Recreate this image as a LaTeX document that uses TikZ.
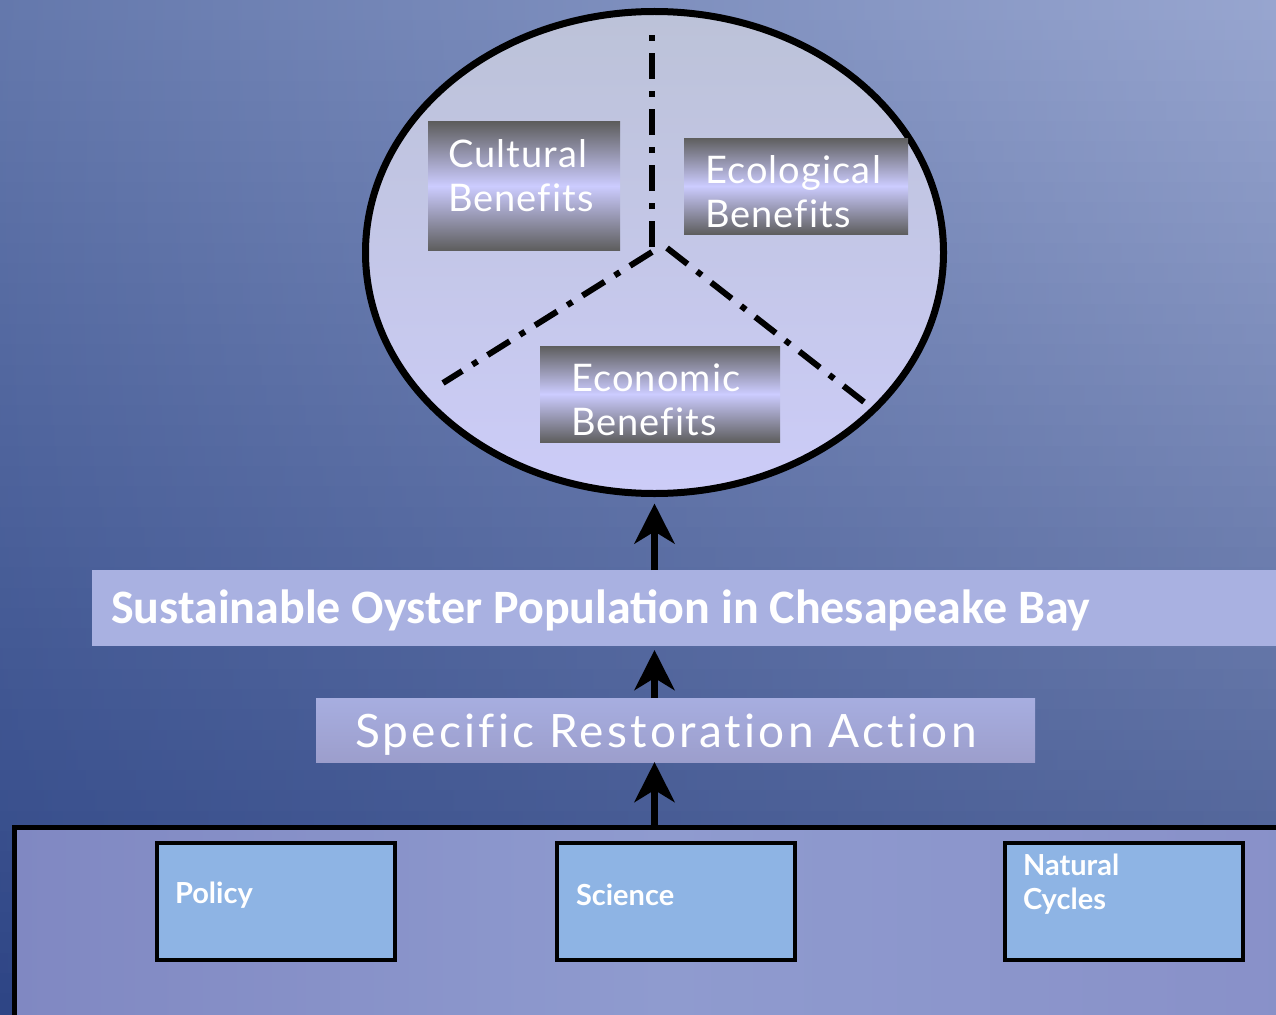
\documentclass[tikz,border=0pt]{standalone}
\usepackage{fontspec}
\setmainfont{Lato}
\newfontfamily\titlefont{Carlito}
\newfontfamily\comicfont{Lato}[Ligatures=NoCommon]
\usetikzlibrary{arrows.meta,shapes.geometric}
\definecolor{bgTL}{HTML}{6478AC}
\definecolor{bgTR}{HTML}{97A5CF}
\definecolor{bgBL}{HTML}{2E4585}
\definecolor{bgBR}{HTML}{44588F}
\definecolor{ovalTop}{HTML}{BCC2D8}
\definecolor{ovalBot}{HTML}{CCCCF8}
\definecolor{benGray}{HTML}{5E5E5E}
\definecolor{benLav}{HTML}{CCCCFF}
\definecolor{titleFill}{HTML}{A9B1E1}
\definecolor{actTop}{HTML}{A7AEE0}
\definecolor{actBot}{HTML}{9C9ECC}
\definecolor{baseL}{HTML}{8088C2}
\definecolor{baseM}{HTML}{8F9BCF}
\definecolor{baseR}{HTML}{8890C8}
\definecolor{cardFill}{HTML}{8EB4E4}
\tikzset{
  every node/.style={outer sep=0pt},
  benbox/.style={rectangle, inner sep=0pt, anchor=north west, top color=benGray, bottom color=benGray, middle color=benLav},
  bentext/.style={anchor=west, inner sep=0pt, text=white, align=left, font=\comicfont\addfontfeatures{LetterSpace=3}\fontsize{38}{44}\selectfont},
  dd/.style={line width=6pt, dash pattern=on 26pt off 12pt on 6pt off 12pt},
  uparr/.style={line width=7pt, -{Stealth[length=40pt,width=40pt,inset=12pt]}},
  card/.style={rectangle, draw=black, line width=4pt, fill=cardFill, inner sep=0pt, anchor=north west, minimum width=238pt, minimum height=117pt},
  cardtext/.style={anchor=west, inner sep=0pt, text=white, align=left, font=\bfseries\fontsize{29}{34}\selectfont}
}
\begin{document}
\begin{tikzpicture}[x=1pt,y=-1pt]
\useasboundingbox (0,0) rectangle (1276,1014);
\clip (0,0) rectangle (1276,1014);
% background: horizontal strips, each shaded left to right, colours mixed top to bottom
\foreach \i in {0,...,49}{
  \pgfmathsetmacro{\t}{\i/49}
  \pgfmathsetmacro{\p}{100*(1-\t)*(1+0.15*\t)}
  \pgfmathsetmacro{\ya}{\i*20.28}
  \pgfmathsetmacro{\yb}{(\i+1)*20.28+1}
  \fill[left color={bgTL!\p!bgBL}, right color={bgTR!\p!bgBR}] (0,\ya) rectangle (1276,\yb);
}
% oval
\node[ellipse, draw=black, line width=7pt, inner sep=0pt, minimum width=578pt, minimum height=482pt, top color=ovalTop, bottom color=ovalBot] (oval) at (654.5,252.5) {};
\coordinate (topend) at (652,25);
\coordinate (lend) at (443,383);
\coordinate (rend) at (864,402);
\draw[dd] (652,247) -- (topend);
\draw[dd] (652,252) -- (lend);
\draw[dd] (667,248) -- (rend);
% benefit boxes
\node[benbox, minimum width=192pt, minimum height=128pt] (cult) at (428,122) {};
\node[bentext] (cultT) at (448,176) {Cultural\\Benefits};
\node[benbox, minimum width=224pt, minimum height=96pt] (eco) at (684,138) {};
\node[bentext] (ecoT) at (705,192) {Ecological\\Benefits};
\node[benbox, minimum width=240pt, minimum height=96pt] (econ) at (540,346) {};
\node[bentext] (econT) at (571,400) {Economic\\Benefits};
% title bar
\node[rectangle, fill=titleFill, inner sep=0pt, anchor=north west, minimum width=1200pt, minimum height=76pt] (title) at (92,570) {};
\node[anchor=west, inner sep=0pt, text=white, font=\titlefont\bfseries\fontsize{48}{50}\selectfont] (titleT) at (111,610) {Sustainable Oyster Population in Chesapeake Bay};
% action box
\node[rectangle, inner sep=0pt, anchor=north west, minimum width=719pt, minimum height=64pt, top color=actTop, bottom color=actBot] (act) at (316,698) {};
\node[anchor=west, inner sep=0pt, text=white, font=\comicfont\addfontfeatures{LetterSpace=7}\fontsize{46}{50}\selectfont] (actT) at (355,735) {Specific Restoration Action};
% base panel
\node[rectangle, draw=black, line width=5pt, inner sep=0pt, anchor=north west, minimum width=1300pt, minimum height=220pt, left color=baseL, right color=baseR, middle color=baseM] (base) at (14.5,827.5) {};
\node[card] (policy) at (157,843) {};
\node[cardtext] (policyT) at (175,895) {Policy};
\node[card] (science) at (557,843) {};
\node[cardtext] (scienceT) at (576,895) {Science};
\node[card] (natural) at (1005,843) {};
\node[cardtext] (naturalT) at (1023,884) {Natural\\Cycles};
% arrows
\draw[uparr, shorten >=10pt] (title.north -| oval.south) -- (oval.south);
\draw[uparr, shorten >=4pt] (act.north -| oval.south) -- (title.south -| oval.south);
\draw[uparr] (base.north -| oval.south) -- (act.south -| oval.south);
\end{tikzpicture}
\end{document}
